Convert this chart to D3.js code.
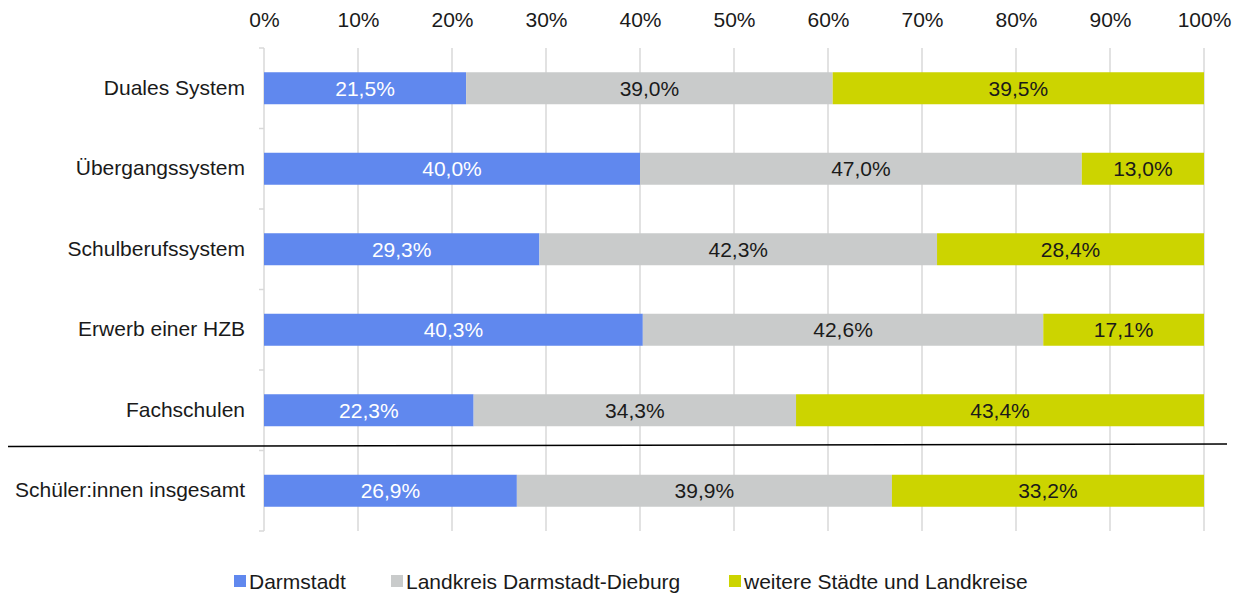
<!DOCTYPE html>
<html><head><meta charset="utf-8">
<script src="https://cdn.jsdelivr.net/npm/d3@7"></script>
<style>body{margin:0;background:#fff}svg{display:block;font-family:"Liberation Sans",Arial,sans-serif}</style>
</head><body><svg id="c" width="1243" height="593"></svg>
<script>
const categories = ["Duales System","Übergangssystem","Schulberufssystem","Erwerb einer HZB","Fachschulen","Schüler:innen insgesamt"];
const seriesNames = ["Darmstadt","Landkreis Darmstadt-Dieburg","weitere Städte und Landkreise"];
const darmstadt = [21.5,40.0,29.3,40.3,22.3,26.9];
const landkreis = [39.0,47.0,42.3,42.6,34.3,39.9];
const weitere = [39.5,13.0,28.4,17.1,43.4,33.2];
const tickValues = [0,10,20,30,40,50,60,70,80,90,100];
const colors = ["#6088ee","#c9cbcb","#ccd400"];
const textColors = ["#ffffff","#1a1a1a","#1a1a1a"];
const FS = 21;

const svg = d3.select("#c");
const x = d3.scaleLinear().domain([0,100]).range([264,1204]);
const yb = d3.scaleBand().domain(categories).range([48,531]);

// gridlines
svg.append("g").selectAll("line").data(tickValues.slice(1)).join("line")
  .attr("x1",d=>x(d)).attr("x2",d=>x(d)).attr("y1",48).attr("y2",531)
  .attr("stroke","#d9d9d9").attr("stroke-width",1.5);

// top axis labels
const xa = svg.append("g").attr("transform","translate(0,48)")
  .call(d3.axisTop(x).tickValues(tickValues).tickFormat(d=>d+"%").tickSize(0).tickPadding(21));
xa.select(".domain").remove();
xa.selectAll("text").attr("font-size",FS).attr("fill","#1a1a1a").attr("font-family","Liberation Sans, Arial, sans-serif");

// left axis
const ya = svg.append("g").attr("transform","translate(264,0)")
  .call(d3.axisLeft(yb).tickSize(0).tickPadding(19));
ya.select(".domain").attr("stroke","#d9d9d9").attr("stroke-width",1.5).attr("d","M0,48V531");
ya.selectAll("text").attr("font-size",FS).attr("fill","#1a1a1a").attr("font-family","Liberation Sans, Arial, sans-serif");
// boundary ticks
const bounds = categories.map(c=>yb(c)).concat([531]);
svg.append("g").selectAll("line").data(bounds).join("line")
  .attr("x1",259).attr("x2",264).attr("y1",d=>d).attr("y2",d=>d)
  .attr("stroke","#d9d9d9").attr("stroke-width",1.5);

// stacked bars
const rows = categories.map((c,i)=>({cat:c,vals:[darmstadt[i],landkreis[i],weitere[i]]}));
const g = svg.append("g");
rows.forEach(r=>{
  let acc=0;
  r.vals.forEach((v,k)=>{
    const x0=acc, x1=acc+v; acc=x1;
    const cy = yb(r.cat)+yb.bandwidth()/2;
    g.append("rect").attr("x",x(x0)).attr("width",x(Math.min(x1,100))-x(x0))
      .attr("y",cy-16).attr("height",32).attr("fill",colors[k]);
    g.append("text").attr("x",(x(x0)+x(Math.min(x1,100)))/2).attr("y",cy)
      .attr("dy","0.36em").attr("text-anchor","middle").attr("font-size",FS)
      .attr("fill",textColors[k]).text(v.toFixed(1).replace(".",",")+"%");
  });
});

// separator line
svg.append("line").attr("x1",8).attr("y1",446.5).attr("x2",1227).attr("y2",444)
  .attr("stroke","#000").attr("stroke-width",1.5);

// legend
const legX = [234,391,729];
const lg = svg.append("g");
seriesNames.forEach((n,k)=>{
  lg.append("rect").attr("x",legX[k]).attr("y",575).attr("width",12).attr("height",12).attr("fill",colors[k]);
  lg.append("text").attr("x",legX[k]+15).attr("y",581).attr("dy","0.36em").attr("font-size",FS)
    .attr("fill","#1a1a1a").text(n);
});
</script></body></html>
